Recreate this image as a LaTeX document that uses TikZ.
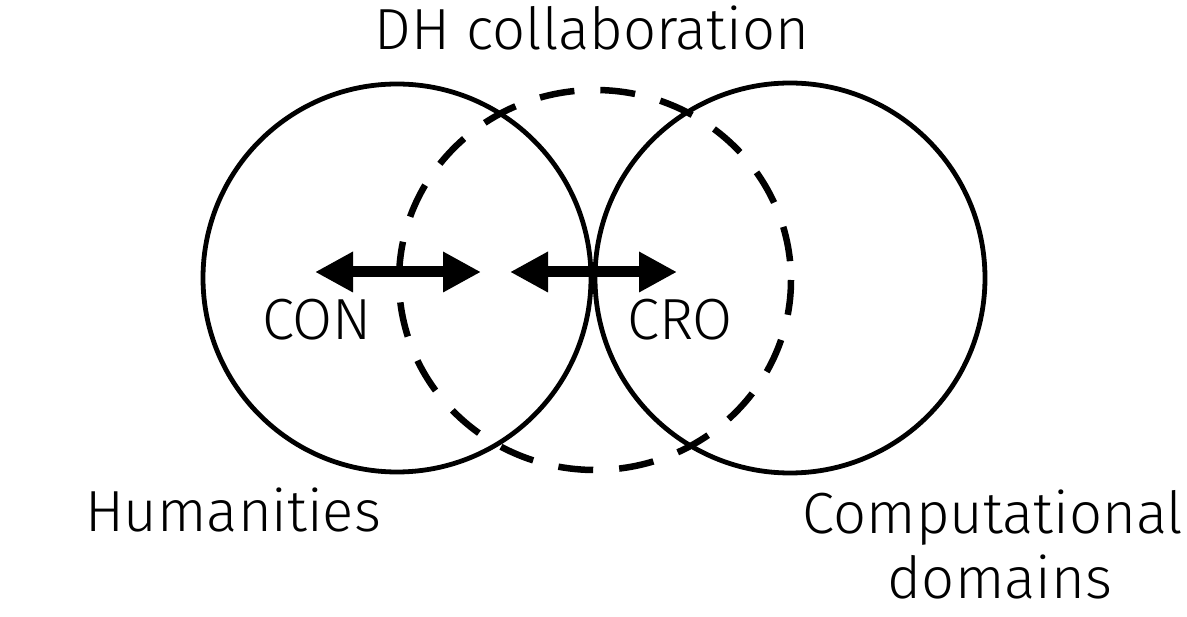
\documentclass[tikz,border=0pt]{standalone}
\usepackage{fontspec}
\setmainfont{Fira Sans Light}
\usetikzlibrary{arrows.meta}
\begin{document}
\begin{tikzpicture}[x=1pt,y=-1pt,
  lbl/.style={inner sep=0pt, anchor=base, font=\fontsize{58}{62}\selectfont},
  ring/.style={draw=black, line width=4.8pt},
  dashring/.style={draw=black, line width=6.5pt, dash pattern=on 35pt off 26pt},
  dblarrow/.style={line width=11pt, {Triangle[length=38pt,width=38pt]}-{Triangle[length=38pt,width=38pt]}}]
\useasboundingbox[fill=white] (0,0) rectangle (1187,617);
\node[ring, circle, minimum size=388pt, inner sep=0pt] (hum) at (397,278) {};
\node[ring, circle, minimum size=390pt, inner sep=0pt] (comp) at (790,278) {};
\draw[dashring] (595,280) ellipse [x radius=196, y radius=190];
\coordinate (a1) at (315,272);
\coordinate (a2) at (481,272);
\coordinate (b1) at (510,272);
\coordinate (b2) at (677,272);
\draw[dblarrow] (a1) -- (a2);
\draw[dblarrow] (b1) -- (b2);
\node[lbl] (dh) at (592,50) {DH collaboration};
\node[lbl] (con) at (317,340) {CON};
\node[lbl] (cro) at (680,340) {CRO};
\node[lbl] (humt) at (233,532) {Humanities};
\node[lbl] (compt) at (993,533) {Computational};
\node[lbl] (dom) at (1000,598) {domains};
\end{tikzpicture}
\end{document}
